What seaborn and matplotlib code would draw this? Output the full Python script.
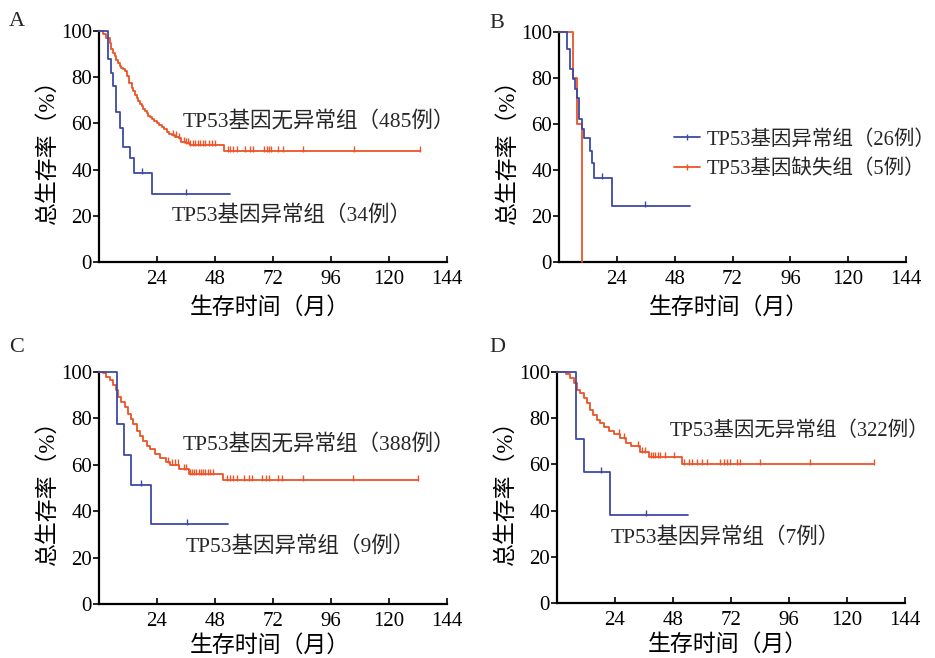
import numpy as np
import pandas as pd
import matplotlib
matplotlib.use("Agg")
import matplotlib.pyplot as plt
import seaborn as sns
from matplotlib.lines import Line2D

sns.set_theme(style="ticks")
FAM = ['Liberation Serif', 'Noto Sans CJK SC']
plt.rcParams['font.family'] = FAM

BLUE = '#3C4AA6'
RED = '#EC5428'

# ---------------- data (months, % survival) ----------------
# Panel A
a_red_t = [0, 1.7, 3.1, 4.4, 5.1, 5.8, 6.5, 7.2, 7.9, 8.6, 9.3, 10.0, 10.7, 11.7, 12.5, 13.5, 14.2, 14.9,
           15.6, 16.3, 17.0, 17.6, 18.3, 19.0, 19.7, 20.4, 21.1, 21.8, 22.9, 23.9, 25.0, 26.0, 27.0, 28.1,
           29.1, 30.1, 31.5, 32.9, 33.9, 35.8, 37.8, 51.9, 133.0]
a_red_s = [100, 98.8, 97.1, 95.0, 92.0, 90.5, 89.0, 87.5, 86.0, 85.0, 84.0, 83.4, 82.7, 80.5, 77.6, 75.4, 74.0, 72.5,
           71.1, 69.7, 68.6, 67.5, 66.4, 65.3, 64.3, 63.4, 62.7, 62.1, 61.2, 60.3, 59.3, 58.4, 57.4, 56.4,
           55.6, 54.9, 54.3, 53.8, 52.0, 51.3, 50.6, 48.0, 48.0]
a_red_cens = [30.8, 31.9, 32.9, 35.0, 36.1, 36.8, 37.8, 38.9, 39.9, 40.8, 41.9, 43.1, 44.0, 45.4, 46.8, 47.8,
              53.3, 54.4, 55.6, 57.2, 60.3, 62.5, 63.9, 68.3, 69.4, 70.4, 71.1, 74.2, 76.0, 84.3, 105.6, 132.9]
a_blue_t = [0, 3.8, 4.8, 5.8, 7.0, 8.5, 10.0, 12.8, 14.6, 21.8, 54.2]
a_blue_s = [100, 88, 82, 76, 65, 58, 50, 45, 38.5, 29.5, 29.5]
a_blue_cens = [17.6, 36.0]

# Panel B
b_blue_t = [0, 3.2, 4.6, 5.7, 6.8, 7.6, 8.5, 9.4, 10.4, 12.9, 13.6, 14.6, 21.9, 54.2]
b_blue_s = [100, 92.5, 84, 79.7, 75.3, 71.3, 62.3, 58, 53.7, 48.2, 42.9, 36.4, 24.4, 24.4]
b_blue_cens = [17.8, 35.8]
b_red_t = [0, 6.0, 7.6, 9.6]
b_red_s = [100, 80, 60, 0]

# Panel C
c_red_t = [0, 1.7, 3.1, 4.4, 5.8, 6.9, 7.9, 9.3, 10.7, 12.1, 13.1, 14.2, 15.6, 16.9, 18.3, 19.7, 21.1,
           23.2, 25.3, 27.8, 29.4, 33.3, 37.1, 51.4, 131.9]
c_red_s = [100, 99.6, 98.0, 96.4, 94.5, 92.3, 89.3, 87.2, 85.0, 82.0, 79.9, 77.7, 74.7, 72.6, 70.4, 68.2, 66.7,
           64.8, 63.0, 61.2, 60.1, 58.0, 56.1, 53.4, 53.4]
c_red_cens = [28.75, 30.1, 31.5, 32.5, 35.0, 36.1, 37.8, 38.5, 39.4, 40.3, 41.25, 42.2, 43.1, 44.0, 45.0, 46.1, 47.2,
              52.8, 54.2, 55.6, 57.0, 60.0, 62.1, 63.5, 67.6, 69.0, 70.4, 73.9, 75.6, 84.3, 105.3, 131.9]
c_blue_t = [0, 7.5, 10.4, 13.3, 21.5, 53.5]
c_blue_s = [100, 77.6, 64.3, 51.3, 34.3, 34.3]
c_blue_cens = [17.4, 36.4]

# Panel D
d_red_t = [0, 1.6, 3.7, 5.5, 7.1, 8.2, 9.6, 11.0, 12.3, 13.7, 15.1, 16.5, 17.8, 19.5, 21.5, 23.6, 26.1,
           28.4, 30.5, 34.3, 38.0, 51.7, 131.3]
d_red_s = [100, 99.9, 99.3, 97.4, 95.2, 92.3, 90.9, 88.7, 86.5, 83.6, 81.4, 79.2, 78.1, 76.3, 74.6, 73.1, 71.3,
           69.1, 67.9, 65.5, 63.3, 60.1, 60.1]
d_red_cens = [25.6, 27.7, 33.5, 35.3, 36.6, 38.7, 39.8, 40.7, 41.7, 42.8, 44.8, 48.3,
              52.7, 54.5, 55.8, 57.9, 59.9, 62.0, 67.5, 68.9, 70.2, 71.6, 74.3, 75.7, 83.9, 104.5, 131.3]
d_blue_t = [0, 7.8, 11.0, 21.9, 54.0]
d_blue_s = [100, 71.2, 56.8, 38, 38]
d_blue_cens = [18.1, 37.0]

x_ticks = [24, 48, 72, 96, 120, 144]
y_ticks = [0, 20, 40, 60, 80, 100]
x_label = '生存时间（月）'
y_label = '总生存率（%）'

# ---------------- figure ----------------
fig = plt.figure(figsize=(9.35, 6.58), dpi=100)
W, H = 935, 658
TXT = 15.5


def rect(l, r, t, b):
    return [l / W, 1 - b / H, (r - l) / W, (b - t) / H]


axA = fig.add_axes(rect(99, 447, 31, 262))
axB = fig.add_axes(rect(559, 906, 32, 262))
axC = fig.add_axes(rect(99, 447, 372, 604))
axD = fig.add_axes(rect(557, 905, 372, 603))


def surv_at(ts, ss, c):
    ts = np.asarray(ts)
    idx = np.searchsorted(ts, np.asarray(c), side='right') - 1
    return np.asarray(ss)[idx]


def draw_curve(ax, ts, ss, color, cens=None):
    df = pd.DataFrame({'t': ts, 's': ss})
    sns.lineplot(data=df, x='t', y='s', ax=ax, color=color, drawstyle='steps-post',
                 estimator=None, sort=False, linewidth=1.3, clip_on=False, zorder=3)
    if cens:
        cdf = pd.DataFrame({'t': cens, 's': surv_at(ts, ss, cens) + 0.9})
        sns.scatterplot(data=cdf, x='t', y='s', ax=ax, color=color, marker='|', s=22,
                        linewidth=1.0, zorder=4, clip_on=False)


def style_axis(ax, xl_y):
    ax.set_xlim(0, 144)
    ax.set_ylim(0, 100)
    ax.set_xticks(x_ticks)
    ax.set_yticks(y_ticks)
    sns.despine(ax=ax)
    for sp in ['left', 'bottom']:
        ax.spines[sp].set_linewidth(1.6)
        ax.spines[sp].set_color('black')
    ax.tick_params(axis='x', direction='in', length=4, width=1.2, pad=6, labelsize=15, colors='black')
    ax.tick_params(axis='y', direction='out', length=4, width=1.2, pad=1, labelsize=15, colors='black')
    ax.set_xlabel(x_label, fontsize=16.5, family=FAM, color='black')
    ax.set_ylabel(y_label, fontsize=16.5, family=FAM, color='black')
    ax.xaxis.set_label_coords(0.49, xl_y)
    ax.yaxis.set_label_coords(-0.115, 0.5)
    ax.set_facecolor('white')


# A
draw_curve(axA, a_red_t, a_red_s, RED, a_red_cens)
draw_curve(axA, a_blue_t, a_blue_s, BLUE, a_blue_cens)
style_axis(axA, -0.15)
axA.text(34.7, 61.2, 'TP53基因无异常组（485例）', fontsize=TXT, va='center', ha='left', family=FAM)
axA.text(30.2, 20.3, 'TP53基因异常组（34例）', fontsize=TXT, va='center', ha='left', family=FAM)

# B
draw_curve(axB, b_red_t, b_red_s, RED)
draw_curve(axB, b_blue_t, b_blue_s, BLUE, b_blue_cens)
style_axis(axB, -0.15)
handles = [Line2D([0], [0], color=BLUE, lw=1.3, marker='|', markersize=5, markeredgewidth=1.0),
           Line2D([0], [0], color=RED, lw=1.3, marker='|', markersize=5, markeredgewidth=1.0)]
axB.legend(handles, ['TP53基因异常组（26例）', 'TP53基因缺失组（5例）'], loc='upper left',
           bbox_to_anchor=(0.33, 0.575), frameon=False, handlelength=1.3,
           handletextpad=0.3, labelspacing=0.5, borderpad=0, borderaxespad=0, numpoints=1,
           prop={'family': FAM, 'size': 14.8})

# C
draw_curve(axC, c_red_t, c_red_s, RED, c_red_cens)
draw_curve(axC, c_blue_t, c_blue_s, BLUE, c_blue_cens)
style_axis(axC, -0.135)
axC.text(34.7, 69.1, 'TP53基因无异常组（388例）', fontsize=TXT, va='center', ha='left', family=FAM)
axC.text(36.0, 25.0, 'TP53基因异常组（9例）', fontsize=TXT, va='center', ha='left', family=FAM)

# D
draw_curve(axD, d_red_t, d_red_s, RED, d_red_cens)
draw_curve(axD, d_blue_t, d_blue_s, BLUE, d_blue_cens)
style_axis(axD, -0.135)
axD.text(46.5, 74.3, 'TP53基因无异常组（322例）', fontsize=14.8, va='center', ha='left', family=FAM)
axD.text(22.0, 28.5, 'TP53基因异常组（7例）', fontsize=TXT, va='center', ha='left', family=FAM)

# panel letters
for lab, (px, py) in {'A': (17, 22), 'B': (497, 24), 'C': (17, 348), 'D': (497, 348)}.items():
    fig.text(px / W, 1 - py / H, lab, fontsize=16, ha='center', va='center', family=FAM)

fig.savefig('out.png', dpi=100, facecolor='white')
